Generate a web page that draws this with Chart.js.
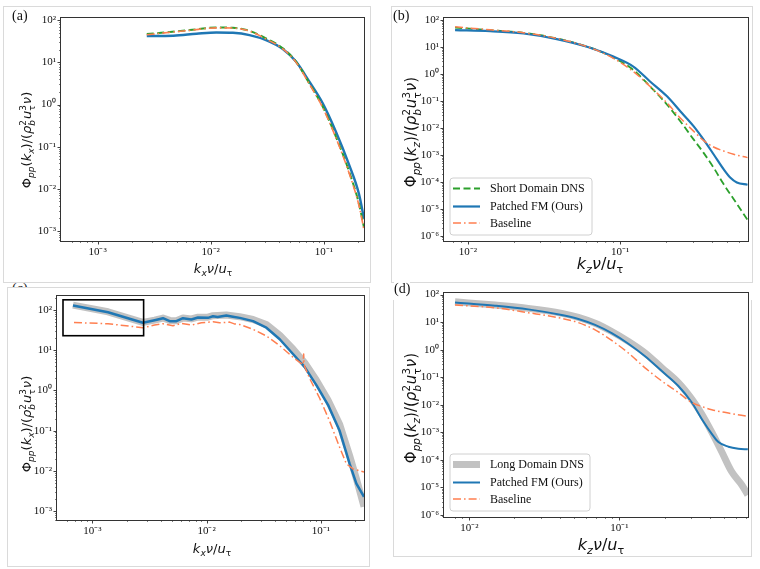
<!DOCTYPE html>
<html><head><meta charset="utf-8">
<script src="https://cdn.jsdelivr.net/npm/chart.js@4.4.1/dist/chart.umd.min.js"></script>
<style>
html,body{margin:0;padding:0;background:#fff;}
body{width:760px;height:569px;position:relative;overflow:hidden;font-family:'DejaVu Sans',sans-serif;color:#111;}
.frame{position:absolute;border:1px solid #dadada;box-sizing:border-box;background:#fff;z-index:1;}
canvas{position:absolute;z-index:2;}
.plabel{position:absolute;font-family:'Liberation Serif',serif;font-size:14px;color:#111;z-index:3;line-height:1;}
.xt,.yt{position:absolute;white-space:nowrap;z-index:3;line-height:1;font-family:'DejaVu Sans',sans-serif;}
.xt{transform:translate(-50%,-50%);}
.yt{transform:translate(-50%,-50%) rotate(-90deg);}
sub,sup{font-size:70%;line-height:0;}
.st{display:inline-flex;flex-direction:column;vertical-align:0.55em;font-size:68%;line-height:1.05;margin-right:1px;}
</style></head>
<body>
<div class="plabel" style="left:12px;top:282px;z-index:0">(c)</div>
<div class="frame" style="left:3px;top:6px;width:368px;height:277px"></div>
<div class="frame" style="left:391px;top:6px;width:362px;height:277px"></div>
<div class="frame" style="left:7px;top:287px;width:363px;height:280px"></div>
<div class="frame" style="left:393px;top:300px;width:359px;height:257px;border-top:none"></div>
<div class="plabel" style="left:12px;top:9px">(a)</div>
<div class="plabel" style="left:393px;top:9px">(b)</div>
<div class="plabel" style="left:394px;top:282px;background:#fff">(d)</div>

<div class="xt" style="left:213px;top:268px;font-size:13px"><i>k</i><sub><i>x</i></sub><i>ν</i>/<i>u</i><sub>τ</sub></div>
<div class="xt" style="left:600px;top:264px;font-size:16px"><i>k</i><sub><i>z</i></sub><i>ν</i>/<i>u</i><sub>τ</sub></div>
<div class="xt" style="left:212px;top:548px;font-size:13px"><i>k</i><sub><i>x</i></sub><i>ν</i>/<i>u</i><sub>τ</sub></div>
<div class="xt" style="left:601px;top:545px;font-size:16px"><i>k</i><sub><i>z</i></sub><i>ν</i>/<i>u</i><sub>τ</sub></div>

<div class="yt" style="left:28px;top:140px;font-size:13px">Φ<sub><i>pp</i></sub>(<i>k</i><sub><i>x</i></sub>)/(<i>ρ</i><span class="st"><span>2</span><span><i>b</i></span></span><i>u</i><span class="st"><span>3</span><span>τ</span></span><i>ν</i>)</div>
<div class="yt" style="left:413px;top:132px;font-size:15px">Φ<sub><i>pp</i></sub>(<i>k</i><sub><i>z</i></sub>)/(<i>ρ</i><span class="st"><span>2</span><span><i>b</i></span></span><i>u</i><span class="st"><span>3</span><span>τ</span></span><i>ν</i>)</div>
<div class="yt" style="left:28px;top:424px;font-size:13px">Φ<sub><i>pp</i></sub>(<i>k</i><sub><i>x</i></sub>)/(<i>ρ</i><span class="st"><span>2</span><span><i>b</i></span></span><i>u</i><span class="st"><span>3</span><span>τ</span></span><i>ν</i>)</div>
<div class="yt" style="left:413px;top:408px;font-size:15px">Φ<sub><i>pp</i></sub>(<i>k</i><sub><i>z</i></sub>)/(<i>ρ</i><span class="st"><span>2</span><span><i>b</i></span></span><i>u</i><span class="st"><span>3</span><span>τ</span></span><i>ν</i>)</div>

<script>
// ---------------- DATA ----------------
const seriesNamesShort = ['Short Domain DNS', 'Patched FM (Ours)', 'Baseline'];
const seriesNamesLong  = ['Long Domain DNS', 'Patched FM (Ours)', 'Baseline'];

// Panel (a): streamwise spectrum, short domain
const a_kx_dns = [2.72e-3, 6.53e-3, 1.12e-2, 1.57e-2, 2.20e-2, 3.08e-2, 4.33e-2, 5.66e-2, 7.41e-2, 9.73e-2, 0.127, 0.166, 0.204, 0.226];
const a_phi_dns = [47.2, 58.7, 67.7, 66.5, 56.5, 37.3, 21.7, 10.5, 3.24, 0.91, 0.179, 0.0267, 4.4e-3, 1.2e-3];
const a_kx_patched = [2.72e-3, 4.67e-3, 7.48e-3, 1.12e-2, 1.57e-2, 2.20e-2, 3.08e-2, 4.33e-2, 5.66e-2, 7.41e-2, 9.73e-2, 0.127, 0.166, 0.204, 0.226];
const a_phi_patched = [42.4, 43.1, 48.1, 51.7, 50.7, 44.7, 34.0, 20.9, 10.5, 3.55, 1.09, 0.234, 0.0385, 7.5e-3, 1.94e-3];
const a_kx_base = [2.72e-3, 6.53e-3, 1.12e-2, 1.57e-2, 2.20e-2, 3.08e-2, 4.33e-2, 5.66e-2, 7.41e-2, 9.73e-2, 0.127, 0.166, 0.204, 0.226];
const a_phi_base = [45.5, 58.0, 66.5, 65.8, 55.5, 36.0, 21.0, 10.2, 3.1, 0.86, 0.168, 0.0245, 4.0e-3, 1.05e-3];

// Panel (b): spanwise spectrum, short domain
const b_kz_dns = [8.25e-3, 0.0140, 0.0232, 0.0384, 0.0635, 0.0903, 0.122, 0.157, 0.203, 0.248, 0.303, 0.352, 0.410, 0.477, 0.555, 0.685];
const b_phi_dns = [53.5, 42.8, 34.1, 21.1, 9.58, 4.10, 1.44, 0.352, 0.0745, 0.0181, 3.84e-3, 1.24e-3, 3.48e-4, 8.47e-5, 2.38e-5, 4.0e-6];
const b_kz_patched = [8.25e-3, 0.0140, 0.0232, 0.0384, 0.0635, 0.0903, 0.122, 0.157, 0.203, 0.248, 0.303, 0.352, 0.410, 0.477, 0.527, 0.583, 0.685];
const b_phi_patched = [42.8, 39.3, 32.2, 19.9, 9.58, 4.47, 1.91, 0.537, 0.151, 0.0423, 0.0119, 3.84e-3, 1.08e-3, 3.02e-4, 1.49e-4, 9.75e-5, 8.0e-5];
const b_kz_base = [8.25e-3, 0.0140, 0.0232, 0.0384, 0.0635, 0.0903, 0.122, 0.157, 0.203, 0.248, 0.303, 0.352, 0.410, 0.477, 0.555, 0.685];
const b_phi_base = [56.6, 44.0, 34.1, 21.1, 9.58, 3.88, 1.25, 0.352, 0.0857, 0.0240, 7.77e-3, 3.53e-3, 2.00e-3, 1.43e-3, 1.08e-3, 8.1e-4];

// Panel (c): streamwise spectrum, long domain
const c_kx_dns = [6.76e-4, 1.37e-3, 2.77e-3, 3.51e-3, 4.15e-3, 4.75e-3, 5.44e-3, 6.21e-3, 7.36e-3, 8.41e-3, 0.01028, 0.01138, 0.01489, 0.0195, 0.0255, 0.0334, 0.0437, 0.0571, 0.0723, 0.0915, 0.1156, 0.1465, 0.179, 0.205, 0.239];
const c_phi_dns = [132, 90, 49, 56, 63, 55, 54, 63, 60, 66, 66, 72, 75, 68, 58, 43.6, 23.5, 10.7, 4.85, 1.79, 0.580, 0.142, 0.0238, 6.38e-3, 1.29e-3];
const c_kx_patched = [6.76e-4, 1.37e-3, 2.77e-3, 3.51e-3, 4.15e-3, 4.75e-3, 5.44e-3, 6.21e-3, 7.36e-3, 8.41e-3, 0.01028, 0.01138, 0.0125, 0.01489, 0.0170, 0.0195, 0.0255, 0.0334, 0.0437, 0.0571, 0.0723, 0.0915, 0.1156, 0.1465, 0.179, 0.205, 0.239];
const c_phi_patched = [129.8, 87.4, 48.0, 55.7, 62.4, 52.7, 52.7, 62.4, 57.9, 64.9, 63.6, 69.8, 66.5, 72.5, 68, 63.6, 52.7, 36.2, 18.7, 8.05, 3.80, 1.35, 0.438, 0.0973, 0.01487, 4.82e-3, 2.27e-3];
const c_kx_base = [6.9e-4, 1.37e-3, 2.77e-3, 3.51e-3, 4.15e-3, 5.08e-3, 6.01e-3, 7.36e-3, 9.0e-3, 0.01138, 0.0130, 0.0159, 0.0175, 0.0195, 0.0255, 0.0334, 0.0437, 0.0571, 0.0699, 0.0708, 0.0714, 0.0723, 0.080, 0.0978, 0.1196, 0.1465, 0.1676, 0.1914, 0.239];
const c_phi_base = [48.9, 45.4, 36.2, 42.1, 45.4, 40.6, 46.3, 42.1, 48.0, 50.8, 48.0, 49.9, 45.0, 43.6, 33.0, 22.6, 12.9, 6.67, 4.33, 8.05, 4.6, 3.9, 1.97, 0.637, 0.171, 0.038, 0.0149, 0.0112, 9.3e-3];
// inset box drawn in panel (c): [kx left, kx right, phi bottom, phi top]
const c_insetBox = [5.53e-4, 2.81e-3, 22.9, 178.7];

// Panel (d): spanwise spectrum, long domain
const d_kz_dns = [8.03e-3, 0.01483, 0.0247, 0.0413, 0.0533, 0.0689, 0.0889, 0.1148, 0.1483, 0.1918, 0.2473, 0.304, 0.354, 0.413, 0.482, 0.561, 0.655, 0.718];
const d_phi_dns = [54.6, 41.5, 31.5, 20.8, 14.9, 9.08, 4.55, 1.99, 0.757, 0.218, 0.0631, 0.0159, 4.58e-3, 1.0e-3, 1.91e-4, 3.65e-5, 1.21e-5, 5.28e-6];
const d_kz_patched = [8.03e-3, 0.01483, 0.0247, 0.0413, 0.0533, 0.0689, 0.0889, 0.1148, 0.1483, 0.1918, 0.2473, 0.304, 0.354, 0.413, 0.457, 0.533, 0.621, 0.718];
const d_phi_patched = [51.6, 39.3, 29.0, 18.1, 13.0, 7.91, 3.96, 1.64, 0.574, 0.166, 0.0479, 0.0120, 3.03e-3, 8.73e-4, 4.38e-4, 2.98e-4, 2.52e-4, 2.39e-4];
const d_kz_base = [8.03e-3, 0.01483, 0.0247, 0.0413, 0.0533, 0.0689, 0.0889, 0.1148, 0.1483, 0.1918, 0.2473, 0.304, 0.354, 0.413, 0.533, 0.718];
const d_phi_base = [41.5, 33.3, 22.0, 13.7, 9.6, 5.22, 2.16, 0.757, 0.218, 0.0724, 0.0275, 0.0120, 8.63e-3, 6.55e-3, 4.97e-3, 3.78e-3];

// Axis limits
const a_xlim = [4.75e-4, 0.226], a_ylim = [Math.pow(10,-3.241), Math.pow(10,2.066)];
const b_xlim = [6.98e-3, 0.69],  b_ylim = [Math.pow(10,-6.18), Math.pow(10,2.096)];
const c_xlim = [4.9e-4, 0.239],  c_ylim = [Math.pow(10,-3.19), Math.pow(10,2.357)];
const d_xlim = [6.78e-3, 0.72],  d_ylim = [Math.pow(10,-6.08), Math.pow(10,2.072)];

// ---------------- STYLE / HELPERS ----------------
const BLUE = '#1f77b4', GREEN = '#2ca02c', CORAL = '#ff7f50', GRAY = '#c2c2c2';
const SUP = {'-':'\u207B','0':'\u2070','1':'\u00B9','2':'\u00B2','3':'\u00B3','4':'\u2074','5':'\u2075','6':'\u2076','7':'\u2077','8':'\u2078','9':'\u2079'};
function powLabel(v){
  const e = Math.log10(v); const r = Math.round(e);
  if (Math.abs(e - r) > 1e-6) return '';
  return '10' + String(r).split('').map(c => SUP[c]).join('');
}
function pts(xs, ys){ return xs.map((x,i) => ({x:x, y:ys[i]})); }

const PAD_L = 50, PAD_T = 10, PAD_R = 10, PAD_B = 30;

const axisDeco = {
  id:'axisDeco',
  afterDraw(chart){
    const ctx = chart.ctx, ca = chart.chartArea;
    ctx.save();
    ctx.strokeStyle = '#2b2b2b';
    const drawTicks = (scale, horiz) => {
      scale.ticks.forEach(t => {
        const v = t.value; if (!(v > 0)) return;
        const ex = Math.floor(Math.log10(v) + 1e-9);
        const m = v / Math.pow(10, ex);
        const mr = Math.round(m);
        if (Math.abs(m - mr) > 1e-6 || mr < 1 || mr > 9) return;
        const p = scale.getPixelForValue(v);
        const major = mr === 1;
        const len = major ? 3.5 : 2;
        ctx.lineWidth = major ? 0.9 : 0.6;
        ctx.beginPath();
        if (horiz) {
          if (p < ca.left - 0.5 || p > ca.right + 0.5) return;
          const px = Math.round(p) + 0.5;
          ctx.moveTo(px, ca.bottom); ctx.lineTo(px, ca.bottom + len);
        } else {
          if (p < ca.top - 0.5 || p > ca.bottom + 0.5) return;
          const py = Math.round(p) + 0.5;
          ctx.moveTo(ca.left, py); ctx.lineTo(ca.left - len, py);
        }
        ctx.stroke();
      });
    };
    drawTicks(chart.scales.x, true);
    drawTicks(chart.scales.y, false);
    ctx.lineWidth = 1;
    ctx.strokeStyle = '#333';
    ctx.strokeRect(Math.round(ca.left) - 0.5, Math.round(ca.top) - 0.5, Math.round(ca.right - ca.left) + 1, Math.round(ca.bottom - ca.top) + 1);
    ctx.restore();
  }
};

const insetBox = {
  id:'insetBox',
  afterDatasetsDraw(chart, args, opts){
    if (!opts || !opts.box) return;
    const [x0, x1, y0, y1] = opts.box;
    const xs = chart.scales.x, ys = chart.scales.y, ctx = chart.ctx;
    const L = xs.getPixelForValue(x0), R = xs.getPixelForValue(x1);
    const T = ys.getPixelForValue(y1), B = ys.getPixelForValue(y0);
    ctx.save(); ctx.strokeStyle = '#000'; ctx.lineWidth = 1.6;
    ctx.strokeRect(L, T, R - L, B - T); ctx.restore();
  }
};

const mplLegend = {
  id:'mplLegend',
  afterDraw(chart, args, opts){
    if (!opts || !opts.show) return;
    const ctx = chart.ctx, ca = chart.chartArea;
    const w = opts.w, h = opts.h;
    const x = ca.left + opts.dx, y = ca.bottom - opts.dy - h;
    ctx.save();
    ctx.beginPath();
    const r = 3;
    ctx.moveTo(x + r, y); ctx.lineTo(x + w - r, y); ctx.arcTo(x + w, y, x + w, y + r, r);
    ctx.lineTo(x + w, y + h - r); ctx.arcTo(x + w, y + h, x + w - r, y + h, r);
    ctx.lineTo(x + r, y + h); ctx.arcTo(x, y + h, x, y + h - r, r);
    ctx.lineTo(x, y + r); ctx.arcTo(x, y, x + r, y, r); ctx.closePath();
    ctx.fillStyle = 'rgba(255,255,255,0.85)'; ctx.fill();
    ctx.strokeStyle = '#d0d0d0'; ctx.lineWidth = 1; ctx.stroke();
    chart.data.datasets.forEach((ds, i) => {
      const ry = y + opts.rows[i];
      ctx.beginPath();
      ctx.setLineDash(ds.borderDash || []);
      ctx.strokeStyle = ds.borderColor; ctx.lineWidth = ds.borderWidth;
      ctx.lineCap = 'butt';
      ctx.moveTo(x + 3, ry); ctx.lineTo(x + 30, ry); ctx.stroke();
      ctx.setLineDash([]);
      ctx.fillStyle = '#111';
      ctx.font = '12px "Liberation Serif", "Times New Roman", serif';
      ctx.textBaseline = 'middle'; ctx.textAlign = 'left';
      ctx.fillText(ds.label, x + 40, ry + 0.5);
    });
    ctx.restore();
  }
};

function makePanel(p){
  const cv = document.createElement('canvas');
  const W = p.r - p.l + PAD_L + PAD_R, H = p.b - p.t + PAD_T + PAD_B;
  cv.width = W; cv.height = H;
  cv.style.left = (p.l - PAD_L) + 'px'; cv.style.top = (p.t - PAD_T) + 'px';
  cv.style.width = W + 'px'; cv.style.height = H + 'px';
  document.body.appendChild(cv);
  const tickFont = {family:'"Liberation Serif", "Times New Roman", serif', size:11};
  new Chart(cv.getContext('2d'), {
    type:'line',
    data:{datasets:p.datasets},
    options:{
      responsive:false, animation:false, devicePixelRatio:1,
      layout:{padding:{left:0, top:PAD_T, right:PAD_R, bottom:0}},
      elements:{point:{radius:0, hoverRadius:0}},
      plugins:{legend:{display:false}, tooltip:{enabled:false},
        mplLegend:p.legend || {show:false}, insetBox:{box:p.inset || null}},
      scales:{
        x:{type:'logarithmic', position:'bottom', min:p.xlim[0], max:p.xlim[1],
           afterFit(s){ s.height = PAD_B; },
           grid:{display:false, drawTicks:false}, border:{display:false},
           ticks:{autoSkip:false, maxRotation:0, minRotation:0, padding:5, color:'#111', font:tickFont,
                  callback:(v) => powLabel(v)}},
        y:{type:'logarithmic', position:'left', min:p.ylim[0], max:p.ylim[1],
           afterFit(s){ s.width = PAD_L; },
           grid:{display:false, drawTicks:false}, border:{display:false},
           ticks:{autoSkip:false, padding:5, color:'#111', font:tickFont,
                  callback:(v) => powLabel(v)}}
      }
    },
    plugins:[insetBox, axisDeco, mplLegend]
  });
}

function ds(label, xs, ys, color, width, dash, order, smooth){
  return {label:label, data:pts(xs, ys), borderColor:color, backgroundColor:color, borderWidth:width,
          borderDash:dash, fill:false, order:order, clip:0, pointRadius:0,
          cubicInterpolationMode: smooth ? 'monotone' : 'default', tension:0,
          borderCapStyle:'butt', borderJoinStyle:'round'};
}
const DASH = [7, 3.5], DASHDOT = [8, 3, 1.6, 3];

makePanel({l:61, t:16, r:364, b:241, xlim:a_xlim, ylim:a_ylim, datasets:[
  ds(seriesNamesShort[0], a_kx_dns, a_phi_dns, GREEN, 2, DASH, 2, true),
  ds(seriesNamesShort[1], a_kx_patched, a_phi_patched, BLUE, 2.5, [], 3, true),
  ds(seriesNamesShort[2], a_kx_base, a_phi_base, CORAL, 1.6, DASHDOT, 1, true)
]});
makePanel({l:444, t:16, r:748, b:241, xlim:b_xlim, ylim:b_ylim,
  legend:{show:true, dx:6, dy:6, w:142, h:57, rows:[10.5, 28.5, 45]},
  datasets:[
  ds(seriesNamesShort[0], b_kz_dns, b_phi_dns, GREEN, 1.8, DASH, 3, true),
  ds(seriesNamesShort[1], b_kz_patched, b_phi_patched, BLUE, 2.2, [], 2, true),
  ds(seriesNamesShort[2], b_kz_base, b_phi_base, CORAL, 1.5, DASHDOT, 1, true)
]});
makePanel({l:57, t:294, r:364, b:520, xlim:c_xlim, ylim:c_ylim, inset:c_insetBox, datasets:[
  ds(seriesNamesLong[0], c_kx_dns, c_phi_dns, GRAY, 7, [], 3, false),
  ds(seriesNamesLong[1], c_kx_patched, c_phi_patched, BLUE, 2.5, [], 2, false),
  ds(seriesNamesLong[2], c_kx_base, c_phi_base, CORAL, 1.5, DASHDOT, 1, false)
]});
makePanel({l:444, t:291, r:748, b:517, xlim:d_xlim, ylim:d_ylim,
  legend:{show:true, dx:6, dy:6, w:140, h:57, rows:[10.5, 28.5, 45]},
  datasets:[
  ds(seriesNamesLong[0], d_kz_dns, d_phi_dns, GRAY, 7, [], 3, true),
  ds(seriesNamesLong[1], d_kz_patched, d_phi_patched, BLUE, 2, [], 2, true),
  ds(seriesNamesLong[2], d_kz_base, d_phi_base, CORAL, 1.5, DASHDOT, 1, true)
]});
</script>
</body></html>
